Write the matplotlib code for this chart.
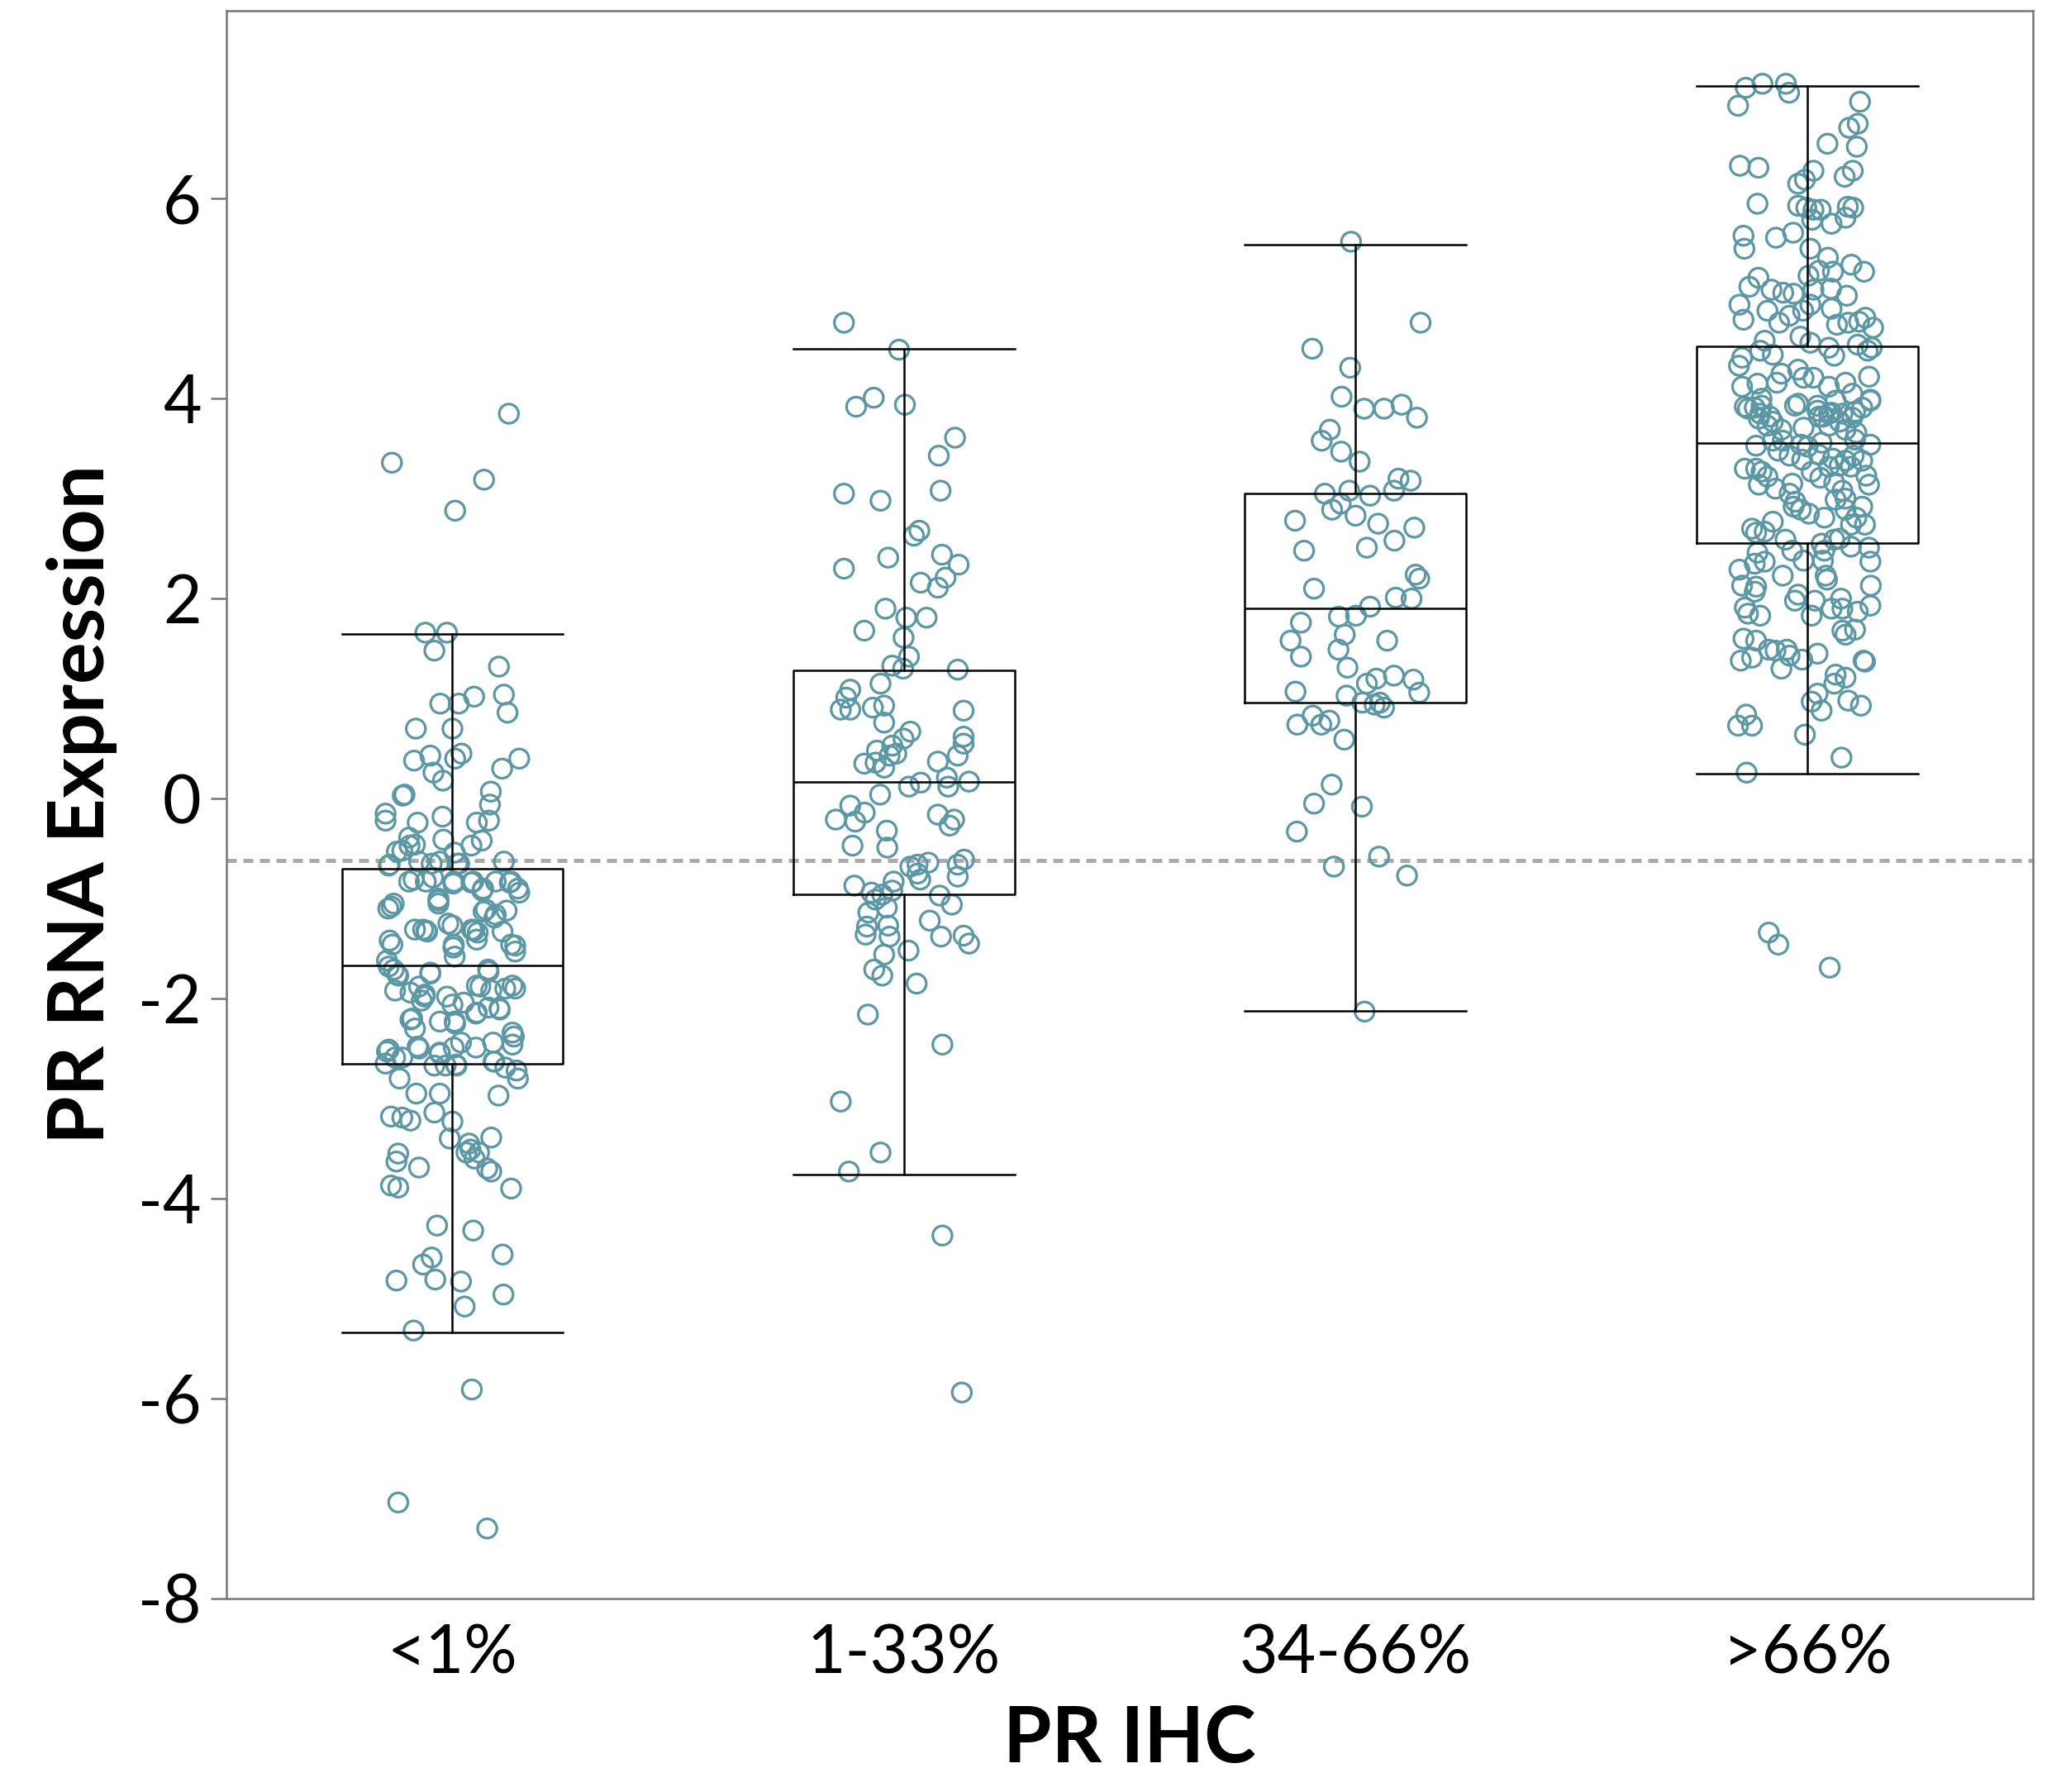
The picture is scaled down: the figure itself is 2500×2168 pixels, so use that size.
import matplotlib
matplotlib.use('agg')
import matplotlib.pyplot as plt
import numpy as np

plt.rcParams['font.family'] = ['Lato', 'DejaVu Sans']
plt.rcParams['axes.unicode_minus'] = False

categories = ['<1%', '1-33%', '34-66%', '>66%']

# box statistics
q1 = [-2.65, -0.96, 0.96, 2.56]
med = [-1.67, 0.17, 1.90, 3.56]
q3 = [-0.70, 1.28, 3.05, 4.52]
whislo = [-5.34, -3.76, -2.12, 0.25]
whishi = [1.65, 4.50, 5.54, 7.13]

cutoff = -0.62

# points: (value, horizontal jitter) per group
g1 = [(3.85, 0.125), (3.36, -0.134), (3.19, 0.070), (2.88, 0.006), (1.66, -0.060), (1.66, -0.012),
      (1.48, -0.040), (1.32, 0.103), (1.04, 0.114), (0.86, 0.122), (0.95, -0.027), (0.95, 0.014),
      (1.02, 0.048), (0.70, -0.081), (0.70, 0.000), (0.38, -0.085), (0.43, -0.049), (0.40, 0.006),
      (0.45, 0.020), (0.40, 0.148), (0.30, 0.110), (0.26, -0.042), (0.18, -0.021), (0.04, -0.106),
      (0.03, -0.110), (-0.15, -0.148), (-0.22, -0.148), (-0.24, -0.077), (-0.18, -0.022), (0.07, 0.085),
      (-0.06, 0.083), (-0.22, 0.081), (-0.24, 0.054), (-0.41, -0.020), (-0.42, 0.065), (-0.47, 0.042),
      (-0.39, -0.096), (-0.46, -0.083), (-0.53, -0.123), (-0.52, -0.111), (-0.54, 0.005), (-0.66, -0.139),
      (-0.63, -0.074), (-0.65, -0.046), (-0.63, -0.028), (-0.65, 0.015), (-0.63, 0.114), (-0.81, -0.086),
      (-0.83, -0.096), (-0.83, -0.059), (-0.79, -0.043), (-0.83, 0.003), (-0.83, 0.046), (-0.90, 0.068),
      (-0.83, 0.096), (-0.83, 0.130), (-0.90, 0.145), (-0.94, 0.148), (-1.00, -0.031), (-1.05, -0.031),
      (-1.10, -0.142), (-1.05, -0.130), (-1.11, 0.074), (-1.16, 0.096), (-1.12, 0.120), (-1.31, -0.083),
      (-1.31, -0.065), (-1.33, -0.056), (-1.25, -0.009), (-1.27, 0.000), (-1.31, 0.043), (-1.34, 0.056),
      (-1.33, 0.111), (-1.42, -0.139), (-1.46, -0.133), (-1.46, 0.003), (-1.46, 0.130), (-1.47, 0.139),
      (-1.62, -0.145), (-1.71, -0.130), (-1.77, -0.120), (-1.75, -0.049), (-1.92, -0.127), (-1.94, -0.093),
      (-1.88, -0.074), (-1.98, -0.062), (-2.02, -0.068), (-1.98, -0.012), (-2.06, 0.000), (-2.04, 0.025),
      (-1.88, 0.062), (-1.73, 0.080), (-1.92, 0.086), (-1.90, 0.117), (-1.90, 0.139), (-2.09, 0.080),
      (-2.11, 0.105), (-2.21, -0.093), (-2.30, -0.083), (-2.23, -0.028), (-2.25, 0.006), (-2.15, 0.052),
      (-2.53, -0.145), (-2.59, -0.127), (-2.59, -0.111), (-2.50, -0.074), (-2.55, -0.028), (-2.49, 0.003),
      (-2.44, 0.019), (-2.49, 0.052), (-2.44, 0.090), (-2.38, 0.136), (-2.46, 0.133), (-2.65, -0.148),
      (-2.67, -0.040), (-2.67, -0.015), (-2.67, 0.009), (-2.63, 0.093), (-2.69, 0.117), (-2.72, 0.142),
      (-2.80, 0.145), (-2.80, -0.117), (-2.95, -0.080), (-2.95, -0.028), (-2.97, 0.102), (-3.18, -0.136),
      (-3.19, -0.111), (-3.22, -0.093), (-3.14, -0.040), (-3.23, 0.000), (-3.40, -0.006), (-3.45, 0.037),
      (-3.51, 0.040), (-3.54, 0.031), (-3.54, 0.059), (-3.60, 0.049), (-3.39, 0.086), (-3.55, -0.120),
      (-3.63, -0.124), (-3.69, -0.074), (-3.70, 0.077), (-3.73, 0.086), (-3.87, -0.136), (-3.89, -0.120),
      (-3.90, 0.130), (-4.27, -0.034), (-4.32, 0.046), (-4.59, -0.046), (-4.66, -0.065), (-4.56, 0.111),
      (-4.82, -0.124), (-4.81, -0.038), (-4.83, 0.019), (-4.96, 0.113), (-5.08, 0.027), (-5.32, -0.086),
      (-5.91, 0.043), (-7.04, -0.120), (-7.30, 0.077),
      # extra points inside the first box
      (-0.85, 0.002), (-0.84, 0.042), (-0.92, 0.066), (-0.84, 0.127), (-1.02, -0.031), (-1.08, -0.135),
      (-1.32, -0.058), (-1.49, 0.002), (-1.58, 0.005), (-1.32, 0.048), (-1.13, 0.069), (-1.19, 0.093),
      (-1.41, 0.054), (-1.53, 0.139), (-1.68, -0.141), (-1.76, -0.122), (-1.74, -0.049), (-1.96, -0.061),
      (-1.87, 0.054), (-1.71, 0.079), (-1.87, 0.133), (-2.14, 0.054), (-2.10, 0.104), (-2.20, -0.089),
      (-2.23, 0.005), (-2.48, -0.077), (-2.54, -0.028), (-2.34, 0.133), (-2.51, -0.141), (-2.66, 0.008),
      (-2.63, 0.091), (-0.67, -0.141), (-0.65, 0.011), (-0.47, -0.095)]

g2 = [(4.76, -0.133), (4.49, -0.011), (3.92, -0.106), (4.01, -0.067), (3.94, 0.002), (3.61, 0.113),
      (3.43, 0.077), (3.05, -0.133), (2.98, -0.052), (3.08, 0.081), (2.68, 0.034), (2.63, 0.022),
      (2.30, -0.133), (2.41, -0.035), (2.44, 0.084), (2.34, 0.121), (2.16, 0.037), (2.21, 0.092),
      (2.11, 0.075), (1.90, -0.041), (1.81, 0.005), (1.81, 0.050), (1.68, -0.088), (1.61, -0.001),
      (1.42, 0.011), (1.33, -0.026), (1.30, -0.002), (1.29, 0.119), (1.15, -0.052), (1.09, -0.119),
      (1.01, -0.128), (0.89, -0.140), (0.89, -0.119), (0.91, -0.069), (0.93, -0.044), (0.76, -0.044),
      (0.88, 0.132), (0.67, 0.014), (0.60, -0.001), (0.62, 0.132), (0.55, 0.132), (0.53, -0.026),
      (0.45, -0.017), (0.48, -0.060), (0.43, -0.032), (0.43, 0.119), (0.35, -0.088), (0.36, -0.063),
      (0.31, -0.044), (0.37, 0.075), (0.12, 0.011), (0.16, 0.037), (0.21, 0.095), (0.12, 0.098),
      (0.17, 0.144), (0.04, -0.053), (-0.07, -0.119), (-0.21, -0.151), (-0.14, -0.087), (-0.23, -0.108),
      (-0.32, -0.038), (-0.16, 0.075), (-0.21, 0.111), (-0.27, 0.101), (-0.47, -0.114), (-0.49, -0.037),
      (-0.68, 0.014), (-0.66, 0.030), (-0.64, 0.054), (-0.75, 0.030), (-0.81, 0.036), (-0.66, 0.119),
      (-0.61, 0.133), (-0.78, 0.119), (-0.87, -0.110), (-0.94, -0.072), (-0.96, -0.048), (-0.83, -0.023),
      (-0.92, -0.026), (-1.01, -0.063), (-1.09, -0.038), (-0.97, 0.079), (-1.06, 0.106), (-1.14, -0.079),
      (-1.28, -0.082), (-1.36, -0.085), (-1.27, -0.035), (-1.38, -0.032), (-1.22, 0.057), (-1.38, 0.082),
      (-1.37, 0.132), (-1.45, 0.144), (-1.52, 0.010), (-1.56, -0.044), (-1.71, -0.066), (-1.77, -0.048),
      (-1.85, 0.028), (-2.16, -0.080), (-2.46, 0.085), (-3.03, -0.140), (-3.54, -0.052), (-3.73, -0.122),
      (-4.37, 0.085), (-5.94, 0.128)]

g3 = [(5.57, -0.010), (4.76, 0.144), (4.50, -0.096), (4.31, -0.012), (4.02, -0.031), (3.90, 0.019),
      (3.90, 0.063), (3.94, 0.102), (3.81, 0.136), (3.69, -0.057), (3.58, -0.075), (3.47, -0.032),
      (3.37, 0.009), (3.20, 0.095), (3.18, 0.122), (3.08, 0.085), (3.05, -0.068), (3.08, -0.014),
      (3.03, 0.032), (2.95, -0.033), (2.89, -0.052), (2.83, 0.000), (2.75, 0.050), (2.71, 0.130),
      (2.78, -0.134), (2.58, 0.086), (2.51, 0.025), (2.48, -0.114), (2.24, 0.133), (2.20, 0.141),
      (2.10, -0.092), (2.01, 0.089), (2.00, 0.124), (1.92, 0.032), (1.83, 0.001), (1.82, -0.037),
      (1.76, -0.121), (1.58, -0.144), (1.64, -0.024), (1.58, 0.070), (1.42, -0.121), (1.49, -0.038),
      (1.31, -0.018), (1.20, 0.046), (1.23, 0.085), (1.15, 0.025), (1.19, 0.128), (1.06, 0.141),
      (1.07, -0.133), (1.03, -0.020), (0.96, 0.015), (0.94, 0.042), (0.96, 0.054), (0.91, 0.063),
      (0.83, -0.095), (0.78, -0.058), (0.74, -0.076), (0.74, -0.129), (0.59, -0.025), (0.14, -0.053),
      (-0.05, -0.092), (-0.08, 0.014), (-0.33, -0.130), (-0.68, -0.048), (-0.58, 0.052), (-0.77, 0.114),
      (-2.13, 0.020)]

g4 = [(7.11, -0.136), (7.15, -0.099), (7.15, -0.047), (7.06, -0.040), (6.93, -0.153), (6.97, 0.117),
      (6.75, 0.112), (6.71, 0.093), (6.55, 0.045), (6.52, 0.110), (6.33, -0.149), (6.31, -0.108),
      (6.28, 0.014), (6.19, -0.005), (6.15, -0.020), (6.28, 0.101), (6.22, 0.083), (5.95, -0.110),
      (5.93, -0.020), (5.91, -0.002), (5.89, 0.014), (5.89, 0.030), (5.79, 0.011), (5.75, 0.054),
      (5.81, 0.085), (5.91, 0.102), (5.92, 0.090), (5.63, -0.141), (5.50, -0.139), (5.61, -0.069),
      (5.66, -0.031), (5.50, 0.007), (5.41, 0.046), (5.34, 0.098), (5.27, 0.126), (5.28, 0.026),
      (5.27, 0.057), (5.23, 0.003), (5.21, -0.108), (5.12, -0.128), (5.09, -0.079), (5.06, -0.053),
      (5.05, -0.030), (5.09, 0.014), (5.10, 0.053), (5.03, 0.088), (4.94, -0.150), (4.79, -0.141),
      (4.88, -0.088), (4.76, -0.062), (4.83, -0.039), (4.88, -0.009), (4.94, 0.007), (4.90, 0.054),
      (4.74, 0.066), (4.76, 0.091), (4.77, 0.115), (4.81, 0.129), (4.71, 0.146), (4.62, -0.015),
      (4.56, 0.007), (4.51, 0.048), (4.54, 0.112), (4.51, 0.143), (4.58, -0.094), (4.41, -0.144),
      (4.48, -0.104), (4.44, -0.076), (4.43, 0.060), (4.48, 0.134), (4.33, -0.151), (4.25, -0.057),
      (4.29, -0.020), (4.21, -0.008), (4.21, 0.014), (4.12, -0.144), (4.15, -0.110), (4.16, -0.067),
      (4.12, 0.048), (4.16, 0.085), (4.22, 0.137), (3.98, 0.140), (4.05, 0.100), (3.98, 0.063),
      (3.93, 0.023), (3.93, -0.027), (4.00, -0.101), (3.90, -0.131), (3.82, -0.082), (3.82, 0.026),
      (3.85, 0.048), (3.87, 0.106), (3.92, -0.138), (3.91, -0.116), (3.93, -0.101), (3.85, -0.104),
      (3.77, -0.076), (3.73, -0.088), (3.95, -0.020), (3.88, 0.023), (3.82, 0.035), (3.86, 0.054),
      (3.85, 0.078), (3.81, 0.100), (3.77, 0.072), (3.91, 0.122), (3.99, 0.140), (3.73, 0.048),
      (3.69, 0.085), (3.66, 0.109), (3.71, -0.008), (3.69, -0.057), (3.80, -0.107), (3.53, -0.113),
      (3.58, -0.076), (3.58, -0.054), (3.54, -0.014), (3.52, 0.001), (3.56, 0.032), (3.59, 0.106),
      (3.54, 0.140), (3.48, -0.064), (3.43, -0.039), (3.39, -0.011), (3.44, 0.026), (3.40, 0.057),
      (3.38, 0.085), (3.43, 0.103), (3.38, 0.122), (3.30, -0.138), (3.30, -0.113), (3.27, -0.101),
      (3.22, -0.088), (3.14, -0.107), (3.10, -0.070), (3.15, -0.033), (3.27, 0.010), (3.32, 0.048),
      (3.33, 0.072), (3.32, 0.097), (3.23, 0.131), (3.14, 0.137), (3.21, 0.029), (3.16, 0.060),
      (3.08, 0.078), (3.05, -0.039), (2.97, -0.026), (2.92, -0.030), (2.89, -0.014), (2.85, 0.004),
      (2.81, 0.038), (2.99, 0.063), (3.00, 0.085), (2.89, 0.085), (2.92, 0.122), (2.81, 0.109),
      (2.74, 0.128), (2.74, 0.097), (2.70, -0.122), (2.77, -0.076), (2.66, -0.113), (2.67, -0.094),
      (2.59, -0.048), (2.55, 0.032), (2.59, 0.060), (2.60, 0.072), (2.52, 0.097), (2.51, 0.137),
      (2.48, -0.033), (2.38, -0.008), (2.48, 0.038), (2.38, 0.035), (2.46, -0.110), (2.37, -0.094),
      (2.35, -0.116), (2.29, -0.150), (2.23, -0.054), (2.23, 0.041), (2.19, 0.044), (2.37, 0.140),
      (2.13, 0.141), (2.13, -0.144), (2.12, -0.113), (2.07, -0.116), (1.98, -0.027), (2.04, -0.020),
      (1.98, 0.017), (1.90, 0.054), (2.00, 0.075), (1.90, 0.078), (1.87, 0.112), (1.93, 0.140),
      (1.83, 0.010), (1.91, -0.138), (1.85, -0.131), (1.83, -0.104), (1.68, 0.078), (1.64, 0.085),
      (1.69, 0.106), (1.60, -0.141), (1.58, -0.113), (1.49, -0.085), (1.48, -0.070), (1.49, -0.045),
      (1.43, -0.039), (1.39, -0.011), (1.45, 0.023), (1.38, -0.147), (1.41, -0.122), (1.30, -0.057),
      (1.37, 0.128), (1.38, 0.125), (1.24, 0.063), (1.21, 0.085), (1.15, 0.060), (1.05, 0.023),
      (0.97, 0.010), (0.88, 0.032), (0.98, 0.091), (0.93, 0.119), (0.84, -0.135), (0.73, -0.153),
      (0.73, -0.122), (0.64, -0.005), (0.41, 0.076), (0.26, -0.134), (-1.34, -0.085), (-1.46, -0.064),
      (-1.69, 0.050)]

groups = [g1, g2, g3, g4]

fig = plt.figure(figsize=(12.5, 10.84), dpi=200)
ax = fig.add_axes([0.1097, 0.108, 0.8743, 0.886])

pt_color = '#5b97a4'
for i, g in enumerate(groups):
    vals = np.array(g)
    ax.scatter(i + vals[:, 1], vals[:, 0], s=70, facecolors='none',
               edgecolors=pt_color, linewidths=1.15, zorder=2)

stats = []
for i in range(len(categories)):
    stats.append(dict(med=med[i], q1=q1[i], q3=q3[i], whislo=whislo[i],
                      whishi=whishi[i], fliers=[]))
ax.bxp(stats, positions=range(len(categories)), widths=0.49, showfliers=False,
       boxprops=dict(color='black', linewidth=0.9),
       medianprops=dict(color='black', linewidth=0.9),
       whiskerprops=dict(color='black', linewidth=0.9),
       capprops=dict(color='black', linewidth=0.9), capwidths=0.49, zorder=3)

ax.axhline(cutoff, color='#aaaaaa', linewidth=1.8, linestyle=(0, (2.4, 1.6)), zorder=1)

ax.set_xlim(-0.5, 3.5)
ax.set_ylim(-8, 7.88)
ax.set_yticks([-8, -6, -4, -2, 0, 2, 4, 6])
ax.set_xticks(range(len(categories)))
ax.set_xticklabels(categories)

for s in ax.spines.values():
    s.set_color('#777777')
    s.set_linewidth(0.9)
ax.tick_params(axis='y', length=7, width=0.9, color='#777777', labelsize=29, pad=4)
ax.tick_params(axis='x', length=0, labelsize=29, pad=11)

fig.text(0.0395, 0.551, 'PR RNA Expression', rotation=90, ha='center', va='center',
         fontsize=34, fontweight='bold')
fig.text(0.5467, 0.029, 'PR IHC', ha='center', va='center', fontsize=34, fontweight='bold')

plt.savefig('out.png', dpi=200)
